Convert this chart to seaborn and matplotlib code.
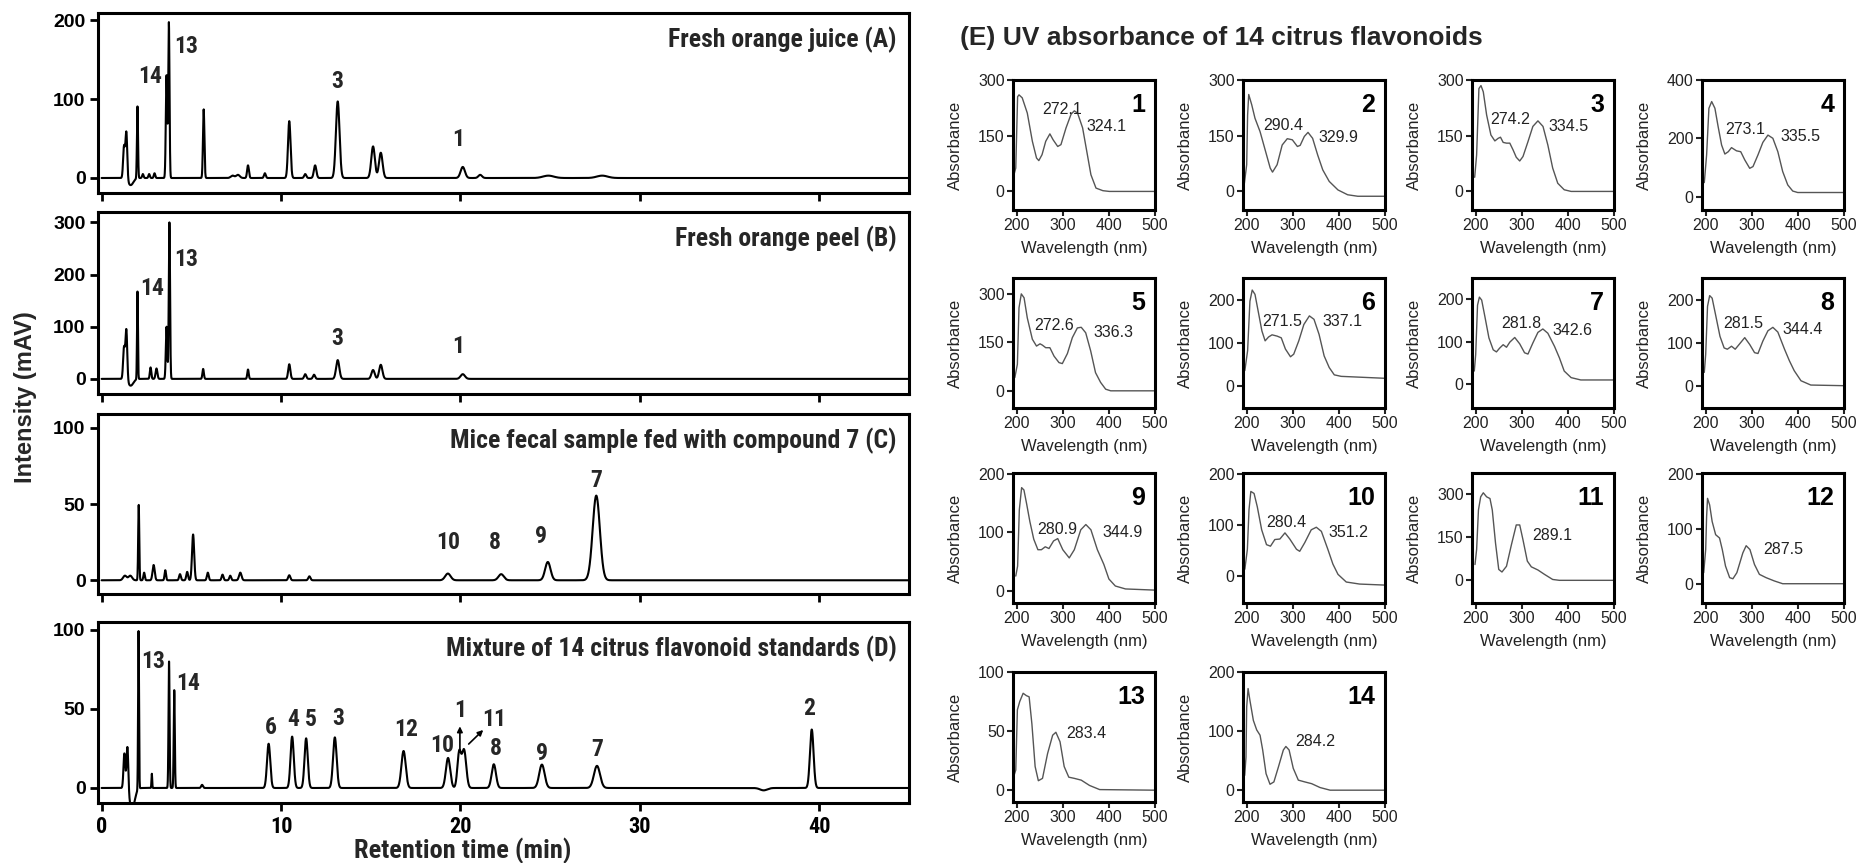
import numpy as np
import pandas as pd
import matplotlib
matplotlib.use("Agg")
import matplotlib.pyplot as plt
from matplotlib import font_manager
from matplotlib.font_manager import FontProperties
import seaborn as sns

# ---------------- chromatogram peak tables (retention time, height mAV, width) -------------
A_t = [1.25, 1.38, 1.62, 2.00, 2.30, 2.65, 2.95, 3.62, 3.75, 5.69, 7.30, 7.60, 8.16, 9.10,
       10.46, 11.35, 11.90, 13.16, 15.13, 15.56, 20.13, 21.10, 24.90, 27.90]
A_h = [40, 60, -9, 91, 5, 5, 6, 130, 197, 87, 3, 4, 16, 6,
       72, 5, 16, 97, 40, 32, 14, 4, 3, 3]
A_w = [0.05, 0.05, 0.15, 0.03, 0.04, 0.04, 0.04, 0.04, 0.035, 0.04, 0.1, 0.1, 0.05, 0.05,
       0.07, 0.06, 0.07, 0.10, 0.10, 0.10, 0.12, 0.10, 0.30, 0.30]

B_t = [1.25, 1.38, 1.62, 2.00, 2.73, 3.06, 3.62, 3.78, 5.66, 8.16, 10.46, 11.35, 11.84,
       13.16, 15.13, 15.56, 20.13]
B_h = [60, 97, -13, 168, 22, 20, 100, 300, 19, 18, 28, 9, 8,
       36, 17, 27, 9]
B_w = [0.05, 0.05, 0.15, 0.025, 0.04, 0.05, 0.04, 0.035, 0.04, 0.04, 0.06, 0.06, 0.06,
       0.09, 0.09, 0.09, 0.12]

C_t = [1.30, 1.60, 2.07, 2.37, 2.90, 3.55, 4.37, 4.77, 5.10, 5.92, 6.74, 7.17, 7.73,
       10.46, 11.58, 19.30, 22.27, 24.87, 27.57]
C_h = [3, 3, 49.5, 5, 10, 6.6, 4, 5.5, 30, 5, 3.7, 3, 5,
       3.3, 2.6, 4.4, 4, 12, 55.5]
C_w = [0.1, 0.1, 0.03, 0.04, 0.06, 0.04, 0.05, 0.05, 0.06, 0.05, 0.05, 0.05, 0.07,
       0.06, 0.06, 0.15, 0.15, 0.15, 0.20]

D_t = [1.27, 1.44, 1.70, 2.06, 2.80, 3.76, 4.05, 5.60, 9.31, 10.62, 11.40, 13.00, 16.83,
       19.31, 19.93, 20.20, 21.86, 24.54, 27.61, 36.90, 39.58]
D_h = [22, 28.7, -13, 100, 9, 80, 62, 2, 28, 32.5, 31.4, 32, 23.4,
       19, 22, 24, 15, 14.8, 14, -1.5, 37]
D_w = [0.05, 0.05, 0.15, 0.025, 0.02, 0.03, 0.03, 0.05, 0.09, 0.09, 0.09, 0.10, 0.12,
       0.12, 0.10, 0.12, 0.12, 0.15, 0.17, 0.20, 0.10]

# peak labels (text, retention time, height)
A_lab = [("14", 2.7, 128), ("13", 4.7, 166), ("3", 13.16, 122), ("1", 19.9, 49)]
B_lab = [("14", 2.8, 174), ("13", 4.7, 228), ("3", 13.16, 77), ("1", 19.9, 62)]
C_lab = [("10", 19.3, 25), ("8", 21.94, 25), ("9", 24.5, 28.6), ("7", 27.57, 65.6)]
D_lab = [("13", 2.9, 80), ("14", 4.8, 66), ("6", 9.44, 38), ("4", 10.69, 43.5),
         ("5", 11.67, 43.5), ("3", 13.2, 44), ("12", 16.96, 36.7), ("10", 18.99, 27),
         ("1", 19.97, 49), ("11", 21.86, 43.5), ("8", 21.96, 25), ("9", 24.54, 22),
         ("7", 27.61, 24.5), ("2", 39.44, 50.4)]

chrom_titles = ["Fresh orange juice (A)", "Fresh orange peel (B)",
                "Mice fecal sample fed with compound 7 (C)",
                "Mixture of 14 citrus flavonoid standards (D)"]
chrom_ylim = [(-19, 209), (-29, 320), (-9, 109), (-9.5, 105)]
chrom_yticks = [[0, 100, 200], [0, 100, 200, 300], [0, 50, 100], [0, 50, 100]]
x_ticks = [0, 10, 20, 30, 40]

# ---------------- UV spectra (wavelength nm, absorbance) -------------
uv1_wl = [193, 198, 202, 205, 212, 223, 234, 243, 248, 255, 263, 272, 279, 289, 296, 307, 318,
          325, 332, 343, 352, 361, 372, 387, 401, 500]
uv1_ab = [40, 63, 255, 260, 252, 211, 135, 90, 83, 99, 135, 155, 139, 121, 126, 171, 208,
          217, 211, 171, 108, 45, 9, 2, 0, 0]
uv2_wl = [195, 200, 202, 204.4, 211, 218, 229, 240, 251, 256, 266, 277, 288, 299, 310, 316,
          325, 333, 343, 354, 365, 379, 398, 419, 441, 500]
uv2_ab = [22, 72, 206, 261, 233, 197, 161, 112, 63, 52, 72, 125, 142, 139, 121, 124,
          148, 159, 143, 98, 58, 27, 4, -9, -13, -13]
uv3_wl = [197.8, 202, 207, 211.5, 216.5, 223.7, 233, 241.6, 248.8, 253.8, 259.6, 266.8, 274,
          281, 288, 295.5, 302.6, 313.4, 324, 335, 346, 356.5, 367, 378, 392, 407, 500]
uv3_ab = [38, 98, 277, 285, 268, 206, 152, 136, 143, 146, 132, 130, 130,
          112, 92, 82, 94, 134, 175, 190, 175, 125, 63, 22, 4.5, 0, 0]
uv4_wl = [197, 202, 207, 213, 220, 227, 234.5, 241.6, 249, 256, 266.8, 276, 284.7, 295.5,
          302.6, 313.4, 324, 335, 345.7, 356.5, 367, 378, 388.8, 399.6, 500]
uv4_ab = [48, 143, 303, 326, 303, 240, 177, 146, 154, 168, 157, 154, 126, 97,
          103, 143, 186, 211, 200, 154, 86, 40, 19, 14, 14]
uv5_wl = [196, 201.5, 205, 210, 216, 223, 234, 243, 250.6, 255.7, 263, 272, 281, 291.8, 299,
          310, 320.7, 331.6, 340, 349.7, 360.5, 371, 382, 393, 404, 500]
uv5_ab = [41, 82, 256, 299, 287, 225, 159, 138, 145, 141, 133, 133, 107, 87, 84,
          115, 164, 194, 196, 179, 123, 56, 26, 5, 0, 0]
uv6_wl = [196, 202, 207, 212, 218, 225.6, 233, 240, 247.5, 255, 266, 275, 284, 295, 302,
          313, 324, 336, 346, 357, 368, 379, 390, 405, 500]
uv6_ab = [35, 81, 196, 222, 212, 169, 127, 104, 113, 118, 115, 111, 85, 67, 73,
          104, 142, 162, 154, 119, 69, 42, 25, 21.5, 17]
uv7_wl = [197, 200, 204, 208, 213, 220, 228.7, 238, 245, 252, 259.6, 266.8, 274, 284.7,
          295.5, 306, 313.4, 324, 335, 345.7, 356.5, 371, 381.6, 392, 407, 428, 500]
uv7_ab = [31, 70, 186, 205, 198, 159, 109, 81, 76, 85, 93, 87, 99, 110,
          95, 74, 71, 97, 122, 130, 120, 89, 62, 31, 15.5, 10, 10]
uv8_wl = [197, 200, 204, 208.6, 214, 221.5, 231, 240, 247, 256, 264, 274, 284.7, 295.5,
          306, 313.4, 324, 335, 345.7, 356.5, 371, 381.6, 392, 406.7, 428, 500]
uv8_ab = [31, 73, 185, 210, 204, 165, 115, 88, 85, 92, 85, 98, 112, 96,
          77, 75, 104, 128, 136, 125, 85, 58, 35, 11.5, 1.5, 0]
uv9_wl = [198, 202, 205.7, 210.7, 215.7, 221.4, 228.6, 237, 246, 253.6, 262, 270, 280, 289,
          300, 314, 325, 339, 350, 361, 375, 389, 400, 414, 436, 500]
uv9_ab = [25, 42, 138, 176, 172, 149, 118, 88, 70, 70, 75, 72, 85, 89,
          70, 56, 70, 104, 113, 104, 70, 45, 20, 8, 3, 1]
uv10_wl = [196, 201.5, 205, 209, 216, 223, 232.5, 243, 251.6, 261, 272, 283, 293.5, 308, 315,
           326, 340, 351, 362, 376, 387, 398, 416, 445, 500]
uv10_ab = [13, 52, 129, 165, 161, 135, 90, 61, 58, 71, 72, 84, 72, 52, 48,
           65, 90, 95, 87, 52, 23, 3, -12, -16, -18]
uv11_wl = [198.5, 202, 206, 210.8, 216.5, 223.7, 231, 236, 243, 250, 257, 266.8, 277.5, 288,
           295.5, 302.6, 312, 320.7, 335, 349, 367, 381.6, 500]
uv11_ab = [55, 107, 245, 291, 305, 291, 285, 245, 130, 38, 29, 49, 124, 193,
           193, 141, 67, 47, 36, 21, 3, 0, 0]
uv12_wl = [195.7, 200, 202, 204, 208.6, 214, 221.6, 230, 236, 243, 252, 259, 267.6, 280.6,
           287.8, 296, 305.8, 316.5, 331, 349, 367, 500]
uv12_ab = [20, 62, 122, 155, 143, 113, 89, 83, 62, 32, 11, 9, 20, 56,
           69, 62, 35, 17, 11, 5, 0, 0]
uv13_wl = [193, 198, 201.5, 206.6, 214, 221, 227, 233, 240, 247, 256, 267, 278, 285, 294,
           303, 313, 325, 340, 358, 380, 500]
uv13_ab = [11, 17, 68, 75, 82, 80, 79, 56, 20, 8, 10, 31, 46.5, 49, 41,
           20, 11, 10, 8.5, 4, 0.5, 0]
uv14_wl = [195.7, 198.5, 200, 203, 207, 214.5, 221.7, 229, 234.7, 242, 250.6, 259, 268.7,
           279.5, 285, 292, 301, 312, 326, 341, 359, 381, 500]
uv14_ab = [25, 56, 141, 172, 152, 118, 102, 93, 68, 28, 10, 14, 39,
           68, 74, 68, 37, 17, 14, 11, 4.5, 0, 0]

uv_names = [str(i) for i in range(1, 15)]
uv_wls = [uv1_wl, uv2_wl, uv3_wl, uv4_wl, uv5_wl, uv6_wl, uv7_wl, uv8_wl, uv9_wl, uv10_wl,
          uv11_wl, uv12_wl, uv13_wl, uv14_wl]
uv_abs = [uv1_ab, uv2_ab, uv3_ab, uv4_ab, uv5_ab, uv6_ab, uv7_ab, uv8_ab, uv9_ab, uv10_ab,
          uv11_ab, uv12_ab, uv13_ab, uv14_ab]
uv_yticks = [[0, 150, 300], [0, 150, 300], [0, 150, 300], [0, 200, 400], [0, 150, 300],
             [0, 100, 200], [0, 100, 200], [0, 100, 200], [0, 100, 200], [0, 100, 200],
             [0, 150, 300], [0, 100, 200], [0, 50, 100], [0, 100, 200]]
uv_ylim = [(-50, 300), (-50, 300), (-50, 300), (-46, 400), (-53, 348), (-52, 250),
           (-56, 250), (-52, 251), (-21, 201), (-53, 201), (-79, 374), (-35, 201),
           (-10, 100), (-20, 200)]
# maxima annotations (text, wavelength, absorbance)
uv_ann = [[("272.1", 298, 220), ("324.1", 394, 175)],
          [("290.4", 280, 177), ("329.9", 398, 146)],
          [("274.2", 274, 195), ("334.5", 401, 175)],
          [("273.1", 285, 229), ("335.5", 406, 206)],
          [("272.6", 281, 200), ("336.3", 409, 181)],
          [("271.5", 277, 150), ("337.1", 408.5, 148)],
          [("281.8", 299, 143), ("342.6", 410, 126)],
          [("281.5", 281, 144), ("344.4", 410, 130)],
          [("280.9", 288, 104), ("344.9", 430, 100)],
          [("280.4", 287, 105), ("351.2", 421, 85)],
          [("289.1", 366, 155)],
          [("287.5", 369, 62)],
          [("283.4", 351, 48)],
          [("284.2", 348, 82)]]

# ---------------- style -------------
sns.set_theme(style="white")
plt.rcParams["font.family"] = ["Liberation Sans", "DejaVu Sans"]

# look for an upright condensed bold sans face (the reference labels use a narrow bold font)
cond_path = None
for f in font_manager.fontManager.ttflist:
    nm = f.name.lower()
    fn = f.fname.lower()
    narrow = ("narrow" in nm or "condensed" in nm or "condensed" in fn or
              str(f.stretch) in ("condensed", "semi-condensed", "extra-condensed"))
    bold = (f.weight in ("bold", 700) or str(f.weight) == "700")
    upright = (f.style == "normal") and ("italic" not in fn) and ("oblique" not in fn)
    if narrow and bold and upright and "mono" not in nm and "serif" not in nm.replace("sans", ""):
        cond_path = f.fname
        if "liberation" in nm:
            break
if cond_path:
    def CF(size):
        return FontProperties(fname=cond_path, size=size)
    S_TITLE, S_PEAK, S_XT, S_XL = 18.5, 17, 16, 19
else:
    def CF(size):
        return FontProperties(family="Liberation Sans", weight="bold", size=size)
    S_TITLE, S_PEAK, S_XT, S_XL = 15, 15, 14, 15.5

W, H = 1859, 863
fig = plt.figure(figsize=(W / 100, H / 100), dpi=100)


def box(l, t, w, h):
    return [l / W, 1 - (t + h) / H, w / W, h / H]


def trace(times, heights, widths, grid):
    y = np.zeros_like(grid)
    for t0, h0, w0 in zip(times, heights, widths):
        y += h0 * np.exp(-0.5 * ((grid - t0) / w0) ** 2)
    return y


grid = np.arange(0, 45.0, 0.004)
chrom_sets = [(A_t, A_h, A_w, A_lab), (B_t, B_h, B_w, B_lab),
              (C_t, C_h, C_w, C_lab), (D_t, D_h, D_w, D_lab)]
chrom_boxes = [(98, 13, 811, 180), (98, 212, 811, 182), (98, 414, 811, 180), (98, 622, 811, 181)]

for i, (tt, hh, ww, labs) in enumerate(chrom_sets):
    ax = fig.add_axes(box(*chrom_boxes[i]))
    df = pd.DataFrame({"t": grid, "y": trace(tt, hh, ww, grid)})
    sns.lineplot(data=df, x="t", y="y", ax=ax, color="black", lw=1.5,
                 estimator=None, sort=False)
    ax.set_xlim(-0.2, 45)
    ax.set_ylim(*chrom_ylim[i])
    ax.set_xlabel("")
    ax.set_ylabel("")
    ax.set_yticks(chrom_yticks[i])
    ax.set_yticklabels([str(v) for v in chrom_yticks[i]], fontsize=14, fontweight="bold")
    ax.set_xticks(x_ticks)
    if i == 3:
        ax.set_xticklabels([str(v) for v in x_ticks], fontproperties=CF(S_XT))
    else:
        ax.set_xticklabels([])
    ax.tick_params(axis="both", direction="out", length=6, width=2, left=True,
                   bottom=True, colors="black", pad=3)
    for s in ax.spines.values():
        s.set_linewidth(2.2)
        s.set_color("black")
    ax.text(0.985, 0.85, chrom_titles[i], transform=ax.transAxes, ha="right", va="center",
            fontproperties=CF(S_TITLE))
    for txt, x0, y0 in labs:
        ax.text(x0, y0, txt, ha="center", va="center", fontproperties=CF(S_PEAK))
    if i == 3:
        ax.annotate("", xy=(19.97, 39), xytext=(19.97, 24),
                    arrowprops=dict(arrowstyle="-|>", color="black", lw=1.2,
                                    mutation_scale=8, shrinkA=0, shrinkB=0))
        ax.annotate("", xy=(21.27, 36.7), xytext=(20.46, 27.8),
                    arrowprops=dict(arrowstyle="-|>", color="black", lw=1.2,
                                    mutation_scale=8, shrinkA=0, shrinkB=0))
        ax.set_xlabel("Retention time (min)", fontproperties=CF(S_XL))
        ax.xaxis.set_label_coords(20.3 / 45.2, -0.19)

fig.text(26 / W, 1 - 397 / H, "Intensity (mAV)", rotation=90, ha="center", va="center",
         fontsize=17, fontweight="bold")
fig.text(960 / W, 1 - 38 / H, "(E) UV absorbance of 14 citrus flavonoids", ha="left",
         va="center", fontsize=19, fontweight="bold")

# ---------------- UV panels -------------
uv_lefts = [1013, 1243, 1472, 1702]
uv_tops = [80, 278, 473, 672]
for k in range(14):
    r, c = divmod(k, 4)
    ax = fig.add_axes(box(uv_lefts[c], uv_tops[r], 142, 130))
    df = pd.DataFrame({"wl": uv_wls[k], "ab": uv_abs[k]})
    sns.lineplot(data=df, x="wl", y="ab", ax=ax, color="#555555", lw=1.0,
                 estimator=None, sort=False)
    ax.set_xlim(192, 500)
    ax.set_ylim(*uv_ylim[k])
    ax.set_xticks([200, 300, 400, 500])
    ax.set_xticklabels(["200", "300", "400", "500"], fontsize=11.5, color="#222222")
    ax.set_yticks(uv_yticks[k])
    ax.set_yticklabels([str(v) for v in uv_yticks[k]], fontsize=11.5, color="#222222")
    ax.tick_params(axis="both", direction="out", length=4, width=1.5, left=True,
                   bottom=True, colors="#222222", pad=2)
    for s in ax.spines.values():
        s.set_linewidth(2.2)
        s.set_color("black")
    ax.set_xlabel("Wavelength (nm)", fontsize=12, color="#222222")
    ax.set_ylabel("Absorbance", fontsize=12, color="#222222")
    ax.xaxis.set_label_coords(0.5, -0.235)
    ax.yaxis.set_label_coords(-0.35, 0.5)
    ax.text(0.93, 0.81, uv_names[k], transform=ax.transAxes, ha="right", va="center",
            fontsize=18, fontweight="bold", color="black")
    for txt, x0, y0 in uv_ann[k]:
        ax.text(x0, y0, txt, ha="center", va="center", fontsize=11.5, color="#222222")

fig.savefig("out.png", dpi=100)
